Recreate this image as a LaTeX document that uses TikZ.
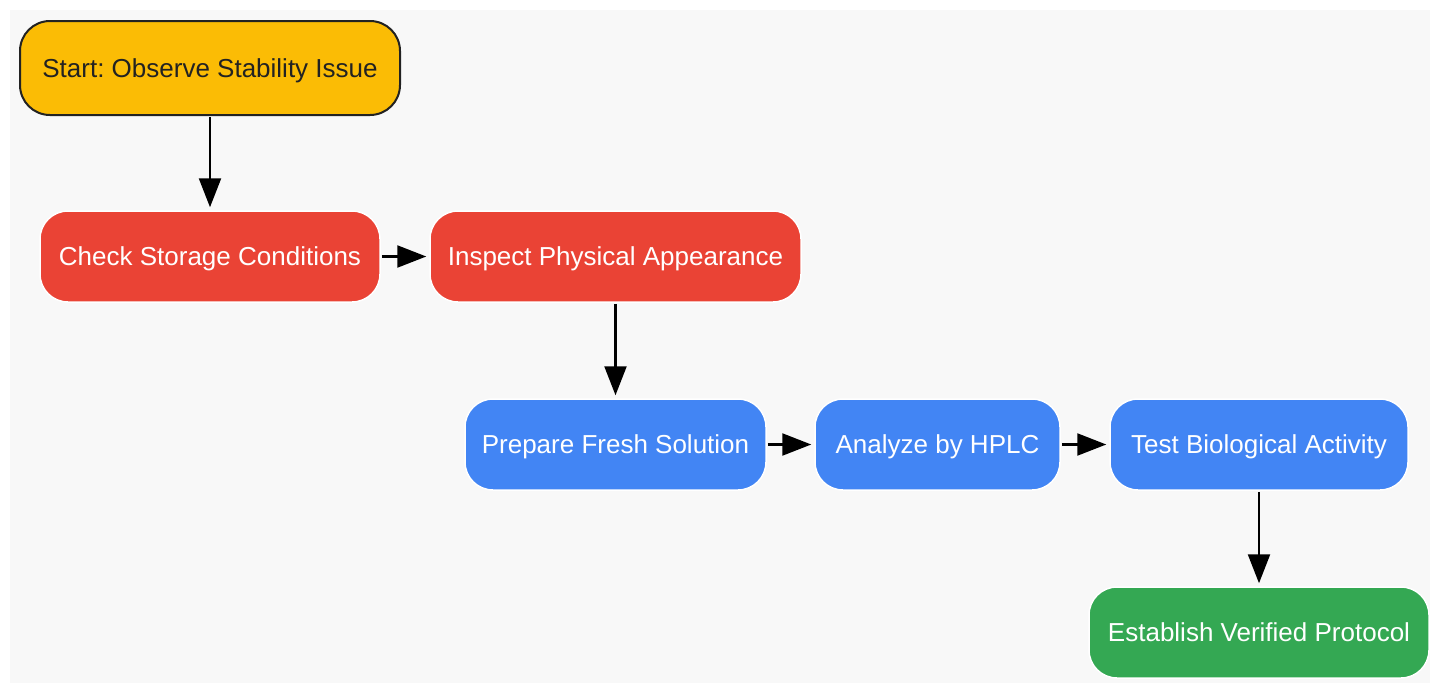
\documentclass[tikz,border=0pt]{standalone}
\usepackage{fontspec}
\setmainfont{Liberation Sans}
\usetikzlibrary{arrows.meta}
\definecolor{bgc}{HTML}{F8F8F8}
\definecolor{startc}{HTML}{FBBC05}
\definecolor{redc}{HTML}{EA4335}
\definecolor{bluec}{HTML}{4285F4}
\definecolor{greenc}{HTML}{34A853}
\definecolor{darkt}{HTML}{222222}
\frenchspacing
\tikzset{
  box/.style={rounded corners=28pt, inner sep=0pt, font=\fontsize{26}{30}\selectfont, text=white, draw=white, line width=1.5pt, text height=18.6pt, text depth=0pt},
  startbox/.style={box, fill=startc, draw=darkt, line width=2pt, text=darkt, rounded corners=30pt},
  redbox/.style={box, fill=redc},
  bluebox/.style={box, fill=bluec},
  greenbox/.style={box, fill=greenc},
  conn/.style={-{Triangle[length=29pt,width=22pt]}, line width=2.3pt, shorten <=1pt, shorten >=3pt}
}
\begin{document}
\begin{tikzpicture}[x=1pt,y=-1pt]
\useasboundingbox (0,0) rectangle (1430,683);
\fill[bgc] (10,10) rectangle (1430,683);
\node[startbox, minimum width=380pt, minimum height=94pt] (start) at (210,68) {Start: Observe Stability Issue};
\node[redbox, minimum width=340pt, minimum height=91pt] (check) at (210,256.5) {Check Storage Conditions};
\node[redbox, minimum width=371pt, minimum height=91pt] (inspect) at (615.5,256.5) {Inspect Physical Appearance};
\node[bluebox, minimum width=301pt, minimum height=91pt] (prepare) at (615.5,444.5) {Prepare Fresh Solution};
\node[bluebox, minimum width=245pt, minimum height=91pt] (analyze) at (937.5,444.5) {Analyze by HPLC};
\node[bluebox, minimum width=298pt, minimum height=91pt] (test) at (1259,444.5) {Test Biological Activity};
\node[greenbox, minimum width=340pt, minimum height=91pt] (establish) at (1259,632.5) {Establish Verified Protocol};
\draw[conn] (start) -- (check);
\draw[conn] (check) -- (inspect);
\draw[conn] (inspect) -- (prepare);
\draw[conn] (prepare) -- (analyze);
\draw[conn] (analyze) -- (test);
\draw[conn] (test) -- (establish);
\end{tikzpicture}
\end{document}
